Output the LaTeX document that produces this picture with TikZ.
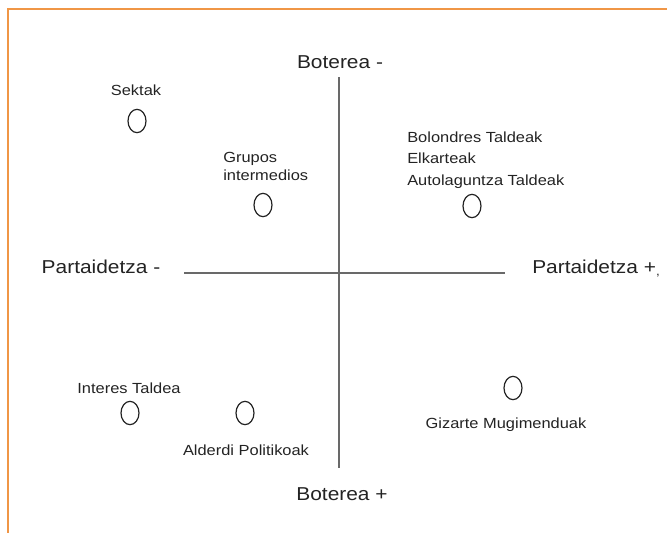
\documentclass[tikz,border=0pt]{standalone}
\usepackage{fontspec}
\setmainfont{Liberation Sans}
\newfontfamily\diagfont[FakeStretch=1.12]{Liberation Sans}
\usetikzlibrary{shapes.geometric}
\definecolor{frameorange}{RGB}{240,150,70}
\definecolor{axisgray}{RGB}{105,105,105}
\definecolor{inkgray}{RGB}{35,35,35}

\begin{document}
\begin{tikzpicture}[x=0.75pt,y=-0.75pt,
    groupmark/.style={draw=inkgray, line width=0.9pt, ellipse, inner sep=0pt, minimum width=13.5pt, minimum height=17.5pt},
    grouplabel/.style={text=inkgray, inner sep=0pt, anchor=base, font=\diagfont\fontsize{11}{16}\selectfont},
    axislabel/.style={text=inkgray, inner sep=0pt, anchor=base, font=\diagfont\fontsize{14}{17}\selectfont}]
                \useasboundingbox (0,0) rectangle (667,533);
                \draw [frameorange, line width=1.5pt] (667,9) -- (8,9) -- (8,533);
                % axes
                \coordinate (top) at (339,77);
                \coordinate (bot) at (339,468);
                \coordinate (left) at (184,273);
                \coordinate (right) at (505,273);
                \draw [axisgray, line width=1.1pt] (top) -- (bot);
                \draw [axisgray, line width=1.1pt] (left) -- (right);
                \node [axislabel] (powlow) at (340,68) {Boterea -};
                \node [axislabel] (powhigh) at (342,500) {Boterea +};
                \node [axislabel] (partlow) at (101,273) {Partaidetza -};
                \node [axislabel] (parthigh) at (596,273) {Partaidetza +\raisebox{-2pt}{\fontsize{9}{9}\selectfont,}};
                % groups (base of a multi-line label is its last line)
                \node [groupmark] (sektak) at (137,121) {};
                \node [grouplabel] (sektaktxt) at (136,95) {Sektak};
                \node [groupmark] (grupos) at (263,205) {};
                \node [grouplabel, anchor=base west, align=left] (grupostxt) at (223,180) {Grupos\\[-2.5pt]intermedios};
                \node [groupmark] (bolondres) at (472,206) {};
                \node [grouplabel, anchor=base west, align=left] (bolondrestxt) at (407,185) {Bolondres Taldeak\\Elkarteak\\Autolaguntza Taldeak};
                \node [groupmark] (interes) at (130,413) {};
                \node [grouplabel] (interestxt) at (129,393) {Interes Taldea};
                \node [groupmark] (alderdi) at (245,413) {};
                \node [grouplabel] (alderditxt) at (246,455) {Alderdi Politikoak};
                \node [groupmark] (gizarte) at (513,388) {};
                \node [grouplabel] (gizartetxt) at (506,428) {Gizarte Mugimenduak};
            \end{tikzpicture}
\end{document}
